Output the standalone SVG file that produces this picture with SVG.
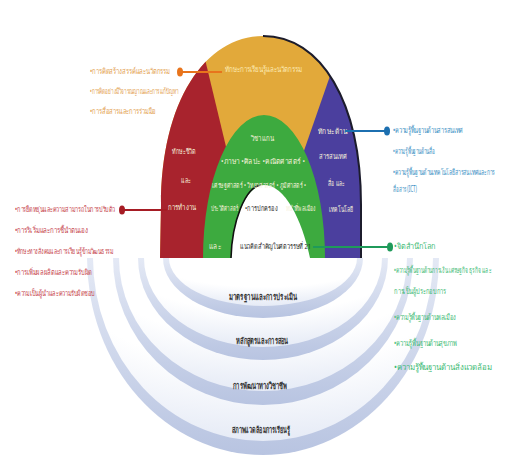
<svg xmlns="http://www.w3.org/2000/svg" width="505" height="465" viewBox="0 0 505 465">
<style>
text{font-family:"Noto Sans","DejaVu Sans",sans-serif;font-size:8px;dominant-baseline:middle}
.or{fill:#e3a050}.rd{fill:#c6434d}.bl{fill:#3b8fc4}.gr{fill:#3cba74}
.wt{fill:#f6f1dc;font-size:7.5px}.dk{fill:#2a2a2a;font-size:7.5px}
.base{fill:#333;font-size:9px;font-weight:bold}
.rim{fill:url(#rimG)}.face{fill:url(#faceG)}
</style>
<defs>
<linearGradient id="rimG" x1="0" y1="0" x2="0" y2="1"><stop offset="0" stop-color="#e4e9f5"/><stop offset="1" stop-color="#b8c4e1"/></linearGradient>
<radialGradient id="faceG" cx="0.5" cy="0" r="1"><stop offset="0.6" stop-color="#ffffff"/><stop offset="1" stop-color="#e6ebf6"/></radialGradient>
<clipPath id="outerClip"><path d="M160,258 L161,205 C161,102 205,36 263,36 C321,36 361,102 361,205 L361,258 Z"/></clipPath>
</defs>
<rect width="505" height="465" fill="#ffffff"/>

<g id="support-systems">
<path class="rim" d="M87,258 A176,197 0 0 0 439,258 Z"/>
<path class="face" d="M93,258 A170,183 0 0 0 433,258 Z"/>
<path class="rim" d="M113,258 A150,147 0 0 0 413,258 Z"/>
<path class="face" d="M119,258 A144,133 0 0 0 407,258 Z"/>
<path class="rim" d="M138,258 A125,102 0 0 0 388,258 Z"/>
<path class="face" d="M144,258 A119,89 0 0 0 382,258 Z"/>
<path class="rim" d="M163,258 A100,60 0 0 0 363,258 Z"/>
<path class="face" d="M169,258 A94,48 0 0 0 357,258 Z"/>
<text class="base" x="263" y="298" text-anchor="middle" textLength="68" lengthAdjust="spacingAndGlyphs">มาตรฐานและการประเมิน</text>
<text class="base" x="262" y="342" text-anchor="middle" textLength="52" lengthAdjust="spacingAndGlyphs">หลักสูตรและการสอน</text>
<text class="base" x="260" y="387" text-anchor="middle" textLength="54" lengthAdjust="spacingAndGlyphs">การพัฒนาทางวิชาชีพ</text>
<text class="base" x="261" y="431" text-anchor="middle" textLength="58" lengthAdjust="spacingAndGlyphs">สภาพแวดล้อมการเรียนรู้</text>
</g>

<g id="outer-arch">
<g clip-path="url(#outerClip)">
<rect x="140" y="30" width="260" height="240" fill="#e2a93a"/>
<polygon id="life-career" points="140,30 198,30 258,280 140,280" fill="#a8232d"/>
<polygon id="info-media-tech" points="346,30 400,30 400,280 259,280" fill="#4b3f9e"/>
</g>
<path d="M263,36 C321,36 361,102 361,205 L361,258" fill="none" stroke="#1c1c2c" stroke-width="2"/>
</g>

<g id="learning-innovation">
<text x="225" y="70" fill="#fdebb5" font-size="9" textLength="77" lengthAdjust="spacingAndGlyphs">ทักษะการเรียนรู้และนวัตกรรม</text>
</g>
<g id="life-career-label">
<text class="wt" x="172" y="152" textLength="24" lengthAdjust="spacingAndGlyphs">ทักษะชีวิต</text>
<text class="wt" x="181" y="181" textLength="10" lengthAdjust="spacingAndGlyphs">และ</text>
<text class="wt" x="168" y="208" textLength="28" lengthAdjust="spacingAndGlyphs">การทำงาน</text>
</g>
<g id="imt-label">
<text class="wt" x="318" y="132" textLength="29" lengthAdjust="spacingAndGlyphs">ทักษะด้าน</text>
<text class="wt" x="319" y="157" textLength="28" lengthAdjust="spacingAndGlyphs">สารสนเทศ</text>
<text class="wt" x="328" y="184" textLength="17" lengthAdjust="spacingAndGlyphs">สื่อ และ</text>
<text class="wt" x="329" y="210" textLength="24" lengthAdjust="spacingAndGlyphs">เทคโนโลยี</text>
</g>

<g id="core-subjects">
<path d="M203,258 A61,143 0 0 1 325,258 Z" fill="#3daa3f"/>
<path d="M231,258 C232,222 245,186 264,185 C285,185 302,220 310,258 Z" fill="#ffffff"/>
<path d="M231,258 C232,222 245,187 261,185" fill="none" stroke="#111" stroke-width="1.6"/>
<text class="wt" x="251" y="139" textLength="23" lengthAdjust="spacingAndGlyphs">วิชาแกน</text>
<text class="wt" x="221" y="162" textLength="84" lengthAdjust="spacingAndGlyphs">•ภาษา •ศิลปะ •คณิตศาสตร์ •</text>
<text class="wt" x="212" y="186" textLength="94" lengthAdjust="spacingAndGlyphs">เศรษฐศาสตร์ • วิทยาศาสตร์ • ภูมิศาสตร์ •</text>
<text class="wt" x="211" y="209" textLength="27" lengthAdjust="spacingAndGlyphs">ประวัติศาสตร์</text>
<text class="dk" x="245" y="209" textLength="33" lengthAdjust="spacingAndGlyphs">•การปกครอง</text>
<text class="wt" x="286" y="209" textLength="30" lengthAdjust="spacingAndGlyphs">หน้าที่พลเมือง</text>
<text class="wt" x="209" y="247" textLength="12" lengthAdjust="spacingAndGlyphs">และ</text>
<text class="dk" x="240" y="247" textLength="71" lengthAdjust="spacingAndGlyphs">แนวคิดสำคัญในศตวรรษที่ 21</text>
</g>

<g id="connectors">
<line x1="180" y1="72" x2="222" y2="72" stroke="#e8741c" stroke-width="2"/>
<ellipse cx="180" cy="72" rx="3" ry="4.5" fill="#e8741c"/>
<line x1="122" y1="210" x2="167" y2="210" stroke="#a61c24" stroke-width="2"/>
<ellipse cx="122" cy="210" rx="3" ry="4.5" fill="#a61c24"/>
<line x1="345" y1="131" x2="387" y2="131" stroke="#1c6fb0" stroke-width="2"/>
<ellipse cx="387" cy="131" rx="3" ry="4.5" fill="#1c6fb0"/>
<line x1="313" y1="247" x2="390" y2="247" stroke="#1f9a5a" stroke-width="2"/>
<ellipse cx="390" cy="247" rx="3" ry="4.5" fill="#1f9a5a"/>
</g>

<g id="learning-innovation-list">
<text class="or" x="90" y="72" textLength="80" lengthAdjust="spacingAndGlyphs">•การคิดสร้างสรรค์และนวัตกรรม</text>
<text class="or" x="90" y="92" textLength="88" lengthAdjust="spacingAndGlyphs">•การคิดอย่างมีวิจารณญาณและการแก้ปัญหา</text>
<text class="or" x="90" y="112" textLength="66" lengthAdjust="spacingAndGlyphs">•การสื่อสารและการร่วมมือ</text>
</g>
<g id="life-career-list">
<text class="rd" x="15" y="210" textLength="100" lengthAdjust="spacingAndGlyphs">•การยืดหยุ่นและความสามารถในการปรับตัว</text>
<text class="rd" x="15" y="231" textLength="73" lengthAdjust="spacingAndGlyphs">•การริเริ่มและการชี้นำตนเอง</text>
<text class="rd" x="15" y="252" textLength="98" lengthAdjust="spacingAndGlyphs">•ทักษะทางสังคมและการเรียนรู้ข้ามวัฒนธรรม</text>
<text class="rd" x="15" y="273" textLength="77" lengthAdjust="spacingAndGlyphs">•การเพิ่มผลผลิตและความรับผิด</text>
<text class="rd" x="15" y="294" textLength="80" lengthAdjust="spacingAndGlyphs">•ความเป็นผู้นำและความรับผิดชอบ</text>
</g>
<g id="imt-list">
<text class="bl" x="393" y="131" textLength="70" lengthAdjust="spacingAndGlyphs">•ความรู้พื้นฐานด้านสารสนเทศ</text>
<text class="bl" x="393" y="152" textLength="42" lengthAdjust="spacingAndGlyphs">•ความรู้พื้นฐานด้านสื่อ</text>
<text class="bl" x="393" y="173" textLength="102" lengthAdjust="spacingAndGlyphs">•ความรู้พื้นฐานด้านเทคโนโลยีสารสนเทศและการ</text>
<text class="bl" x="393" y="190" textLength="24" lengthAdjust="spacingAndGlyphs">สื่อสาร (ICT)</text>
</g>
<g id="themes-list">
<text class="gr" x="394" y="247" textLength="42" lengthAdjust="spacingAndGlyphs">•จิตสำนึกโลก</text>
<text class="gr" x="394" y="271" textLength="97" lengthAdjust="spacingAndGlyphs">•ความรู้พื้นฐานด้านการเงิน เศรษฐกิจ ธุรกิจ และ</text>
<text class="gr" x="394" y="292" textLength="52" lengthAdjust="spacingAndGlyphs">การเป็นผู้ประกอบการ</text>
<text class="gr" x="394" y="318" textLength="62" lengthAdjust="spacingAndGlyphs">•ความรู้พื้นฐานด้านพลเมือง</text>
<text class="gr" x="394" y="344" textLength="63" lengthAdjust="spacingAndGlyphs">•ความรู้พื้นฐานด้านสุขภาพ</text>
<text class="gr" x="394" y="368" textLength="98" lengthAdjust="spacingAndGlyphs">•ความรู้พื้นฐานด้านสิ่งแวดล้อม</text>
</g>
</svg>
